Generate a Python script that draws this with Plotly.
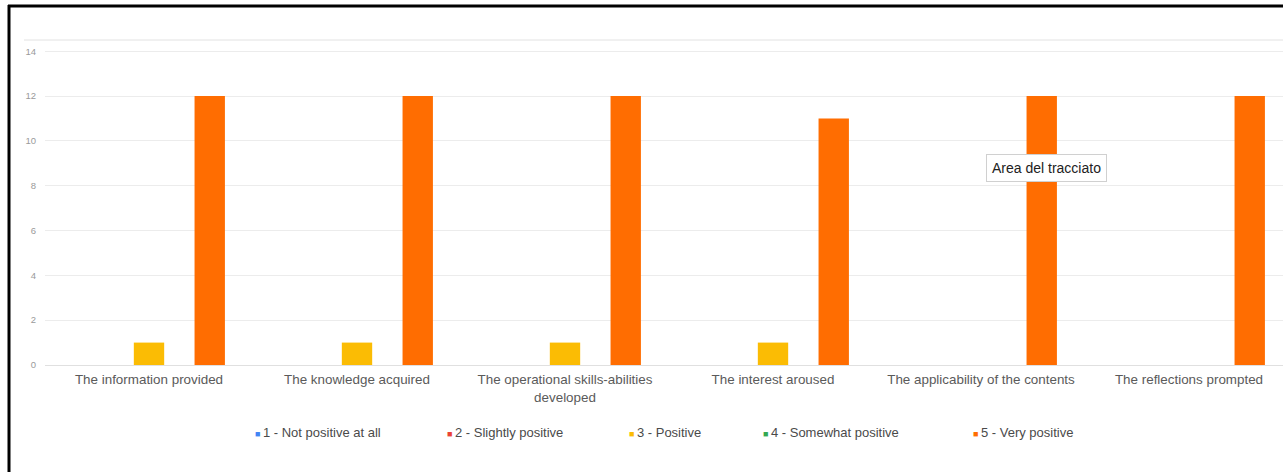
import plotly.graph_objects as go

categories = [
    "The information provided",
    "The knowledge acquired",
    "The operational skills-abilities<br>developed",
    "The interest aroused",
    "The applicability of the contents",
    "The reflections prompted",
]
series_names = [
    "1 - Not positive at all",
    "2 - Slightly positive",
    "3 - Positive",
    "4 - Somewhat positive",
    "5 - Very positive",
]
values_1 = [0, 0, 0, 0, 0, 0]
values_2 = [0, 0, 0, 0, 0, 0]
values_3 = [1, 1, 1, 1, 0, 0]
values_4 = [0, 0, 0, 0, 0, 0]
values_5 = [12, 12, 12, 11, 12, 12]
y_ticks = [0, 2, 4, 6, 8, 10, 12, 14]

colors = ["#4285F4", "#EA4335", "#FBBC04", "#34A853", "#FF6D01"]
all_values = [values_1, values_2, values_3, values_4, values_5]

W, H = 1283, 472
L, R, T, B = 45, 0, 40, 107
PW, PH = W - L - R, H - T - B


def px_x(p):
    return (p - L) / PW


def px_y(p):
    return (H - B - p) / PH


fig = go.Figure()
for name, vals, col in zip(series_names, all_values, colors):
    fig.add_trace(go.Bar(
        x=categories, y=vals, name=name,
        marker=dict(color=col, line=dict(width=0)),
        showlegend=False,
    ))

font_family = "Liberation Sans, Arial, sans-serif"

# legend drawn as text items
legend_x = [257, 449, 631, 765, 975]
annotations = []
for name, col, lx in zip(series_names, colors, legend_x):
    annotations.append(dict(
        x=px_x(lx - 4), y=px_y(432), xref="paper", yref="paper",
        xanchor="left", yanchor="middle", showarrow=False,
        text=f"<span style='color:{col};font-size:9px'>■ </span>{name}",
        font=dict(family=font_family, size=13, color="#4a4a4a"),
    ))

# tooltip box in the screenshot
annotations.append(dict(
    x=px_x(1046), y=px_y(168), xref="paper", yref="paper",
    xanchor="center", yanchor="middle", showarrow=False,
    text="Area del tracciato",
    font=dict(family=font_family, size=14, color="#222222"),
    bgcolor="white", bordercolor="#d0d0d0", borderwidth=1, borderpad=5,
))

shapes = [
    # light top line of chart area
    dict(type="line", xref="paper", yref="paper",
         x0=px_x(24), x1=px_x(W + 5), y0=1, y1=1,
         line=dict(color="#e2e2e2", width=1)),
    # black frame of the screenshot
    dict(type="line", xref="paper", yref="paper",
         x0=px_x(9), x1=px_x(9), y0=px_y(5), y1=px_y(H + 5),
         line=dict(color="black", width=3)),
    dict(type="line", xref="paper", yref="paper",
         x0=px_x(8), x1=px_x(W + 5), y0=px_y(6), y1=px_y(6),
         line=dict(color="black", width=3)),
]

fig.update_layout(
    width=W, height=H,
    margin=dict(l=L, r=R, t=T, b=B, pad=0),
    paper_bgcolor="white", plot_bgcolor="white",
    barmode="group", bargap=0.27, bargroupgap=0.0,
    font=dict(family=font_family),
    showlegend=False,
    annotations=annotations,
    shapes=shapes,
    xaxis=dict(
        range=[-0.5, -0.5 + PW / 208.0],
        showgrid=False, zeroline=False, showline=False,
        ticks="", tickfont=dict(size=13.4, color="#5a5a5a"),
        ticklabelstandoff=5,
    ),
    yaxis=dict(
        range=[0, 14.5], tickvals=y_ticks,
        showgrid=True, gridcolor="#ececec", gridwidth=1,
        zeroline=True, zerolinecolor="#e0e0e0", zerolinewidth=1,
        showline=False, ticks="",
        tickfont=dict(size=9.5, color="#9a9a9a"),
        ticklabelstandoff=8,
    ),
)

fig.write_html(
    "out.html",
    config={"displayModeBar": False},
    post_script="document.body.style.margin='0';document.body.style.overflow='hidden';",
)
